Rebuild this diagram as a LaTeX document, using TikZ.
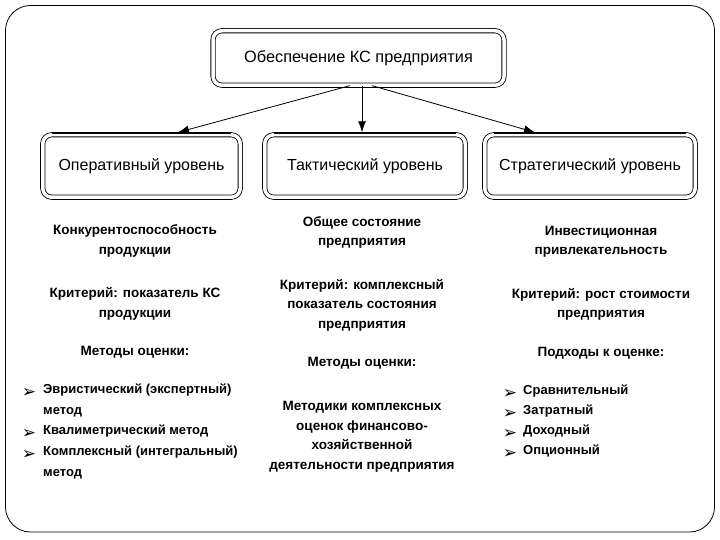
\documentclass[tikz,border=0pt]{standalone}
\usepackage{fontspec}
\setmainfont{Liberation Sans}
\newfontfamily\dejavu{DejaVu Sans}
\usetikzlibrary{arrows.meta}
\begin{document}
\begin{tikzpicture}[x=1pt,y=-1pt,
  dbox/.style={draw, line width=0.8pt, double=white, double distance=3.5pt, rounded corners=9pt, inner sep=0pt},
  boxtext/.style={font=\fontsize{16}{19}\selectfont},
  body/.style={font=\fontsize{13.5}{19.5}\selectfont\bfseries, align=center, inner sep=0pt},
  item/.style={font=\fontsize{13}{20.5}\selectfont\bfseries, align=left, anchor=north west, inner sep=0pt},
  bul/.style={font=\fontsize{17}{19}\dejavu, inner sep=0pt},
  arr/.style={-{Latex[length=11pt,width=8pt]}, line width=0.8pt}
]
\useasboundingbox (0,0) rectangle (720,540);
% outer frame
\draw[line width=0.8pt, rounded corners=25pt] (5.5,5.5) rectangle (714.5,532);
% top box
\node[dbox, minimum width=291pt, minimum height=54.5pt, font=\fontsize{16.3}{19}\selectfont] (T) at (358.5,58) {Обеспечение КС предприятия};
% level boxes
\node[dbox, minimum width=197.5pt, minimum height=62.5pt, boxtext] (L) at (141.5,166) {Оперативный уровень};
\node[dbox, minimum width=200.5pt, minimum height=62.5pt, boxtext] (M) at (365,166) {Тактический уровень};
\node[dbox, minimum width=210.5pt, minimum height=62.5pt, boxtext] (R) at (590,166) {Стратегический уровень};
\foreach \b in {L,M,R}{
  \draw[line width=1.6pt] ([xshift=10pt,yshift=1.2pt]\b.north west) -- ([xshift=-10pt,yshift=1.2pt]\b.north east);
}
% arrows
\draw[arr] ([xshift=-8.5pt]T.south) -- ([xshift=36.5pt,yshift=2pt]L.north);
\draw[arr] ([xshift=3.5pt]T.south) -- ([xshift=-3pt,yshift=2pt]M.north);
\draw[arr] ([xshift=13.5pt]T.south) -- ([xshift=-55pt,yshift=2pt]R.north);
% left column
\node[body] (l1) at (135,241) {Конкурентоспособность\\продукции};
\node[body] (l2) at (135,304) {Критерий: показатель КС\\продукции};
\node[body] (l3) at (135,352) {Методы оценки:};
\node[bul] (lb1) at (29,393) {➢};
\node[item] (li1) at (43,384) {Эвристический (экспертный)\\метод};
\node[bul] (lb2) at (29,434) {➢};
\node[item] (li2) at (43,425) {Квалиметрический метод};
\node[bul] (lb3) at (29,455) {➢};
\node[item] (li3) at (43,446) {Комплексный (интегральный)\\метод};
% middle column
\node[body] (m1) at (362,232.5) {Общее состояние\\предприятия};
\node[body] (m2) at (362,305) {Критерий: комплексный\\показатель состояния\\предприятия};
\node[body] (m3) at (362,363) {Методы оценки:};
\node[body] (m4) at (362,437) {Методики комплексных\\оценок финансово-\\хозяйственной\\деятельности предприятия};
% right column
\node[body] (r1) at (601,242) {Инвестиционная\\привлекательность};
\node[body] (r2) at (601,304.5) {Критерий: рост стоимости\\предприятия};
\node[body] (r3) at (601,353) {Подходы к оценке:};
\node[bul] (rb1) at (510,394) {➢};
\node[item] (ri1) at (523,385) {Сравнительный};
\node[bul] (rb2) at (510,414) {➢};
\node[item] (ri2) at (523,405) {Затратный};
\node[bul] (rb3) at (510,434) {➢};
\node[item] (ri3) at (523,425) {Доходный};
\node[bul] (rb4) at (510,454) {➢};
\node[item] (ri4) at (523,445) {Опционный};
\end{tikzpicture}
\end{document}
